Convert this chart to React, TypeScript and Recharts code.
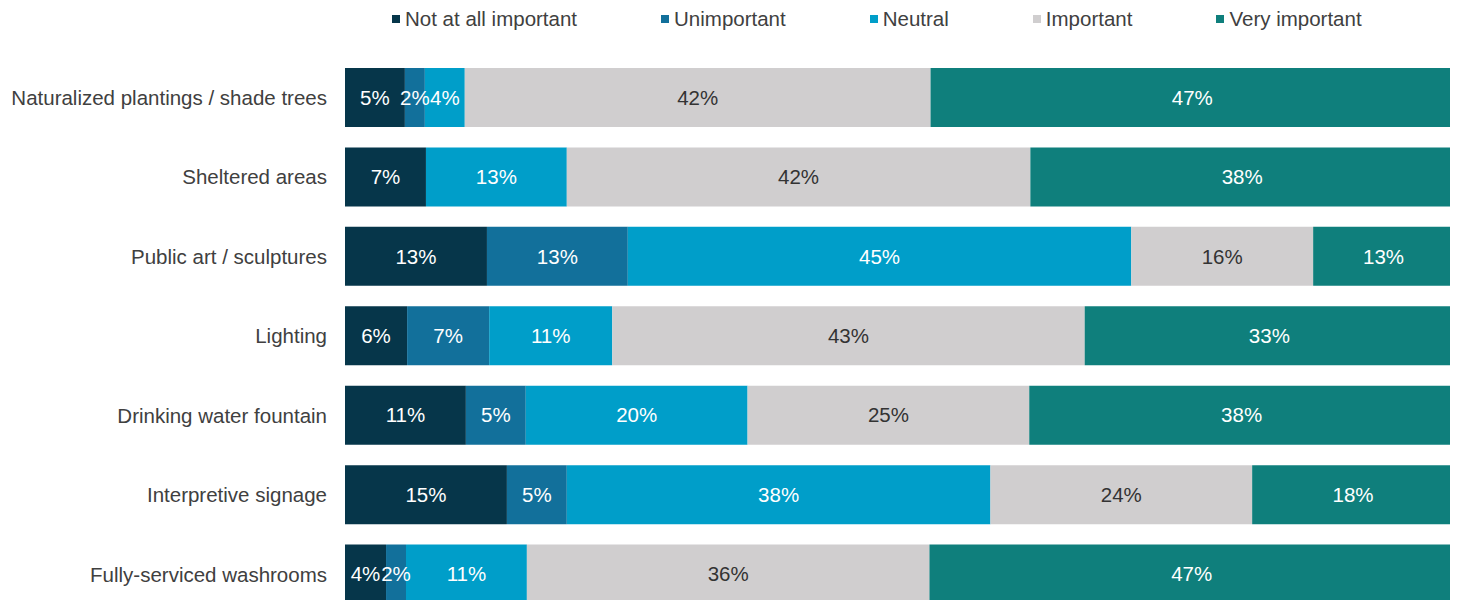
import { BarChart, Bar, XAxis, YAxis, LabelList } from 'recharts'

const categories = [
  'Naturalized plantings / shade trees',
  'Sheltered areas',
  'Public art / sculptures',
  'Lighting',
  'Drinking water fountain',
  'Interpretive signage',
  'Fully-serviced washrooms',
]

const notAtAll = [5.4, 7.3, 12.8, 5.6, 10.9, 14.6, 3.7]
const unimportant = [1.8, 0, 12.7, 7.4, 5.4, 5.4, 1.8]
const neutral = [3.6, 12.7, 45.4, 11.1, 20.0, 38.2, 10.9]
const important = [42.0, 41.8, 16.4, 42.6, 25.4, 23.6, 36.3]
const veryImportant = [47.2, 38.2, 12.7, 33.3, 38.3, 18.2, 47.3]

const series = [
  { key: 'notAtAll', name: 'Not at all important', color: '#06364a', text: '#ffffff', values: notAtAll },
  { key: 'unimportant', name: 'Unimportant', color: '#12709b', text: '#ffffff', values: unimportant },
  { key: 'neutral', name: 'Neutral', color: '#009ec9', text: '#ffffff', values: neutral },
  { key: 'important', name: 'Important', color: '#d0cecf', text: '#333333', values: important },
  { key: 'veryImportant', name: 'Very important', color: '#0f7f7c', text: '#ffffff', values: veryImportant },
]

const data = categories.map((cat, i) => {
  const row: Record<string, string | number> = { category: cat }
  series.forEach((s) => {
    row[s.key] = s.values[i]
  })
  return row
})

const font = '"Liberation Sans", Arial, sans-serif'
const fs = 20.5

function pct(v: any) {
  const n = Number(v)
  if (!n || n < 0.5) return ''
  return `${Math.round(n)}%`
}

export default function App() {
  return (
    <div style={{ position: 'relative', width: 1450, height: 592, overflow: 'hidden', fontFamily: font }}>
      <div
        style={{
          position: 'absolute',
          top: 0,
          left: 384,
          height: 21,
          display: 'flex',
          alignItems: 'center',
          gap: 84,
          fontSize: fs,
          color: '#404040',
          whiteSpace: 'nowrap',
        }}
      >
        {series.map((s) => (
          <div key={s.key} style={{ display: 'flex', alignItems: 'center' }}>
            <span style={{ display: 'inline-block', width: 8, height: 8, background: s.color, marginRight: 5 }} />
            <span>{s.name}</span>
          </div>
        ))}
      </div>
      <BarChart
        layout="vertical"
        width={1450}
        height={620}
        data={data}
        margin={{ top: 50, right: 4, bottom: 14, left: 0 }}
        style={{ fontFamily: font }}
      >
        <XAxis type="number" domain={[0, 100]} hide />
        <YAxis
          type="category"
          dataKey="category"
          width={337}
          axisLine={false}
          tickLine={false}
          tickSize={0}
          tickMargin={18}
          tick={{ fill: '#404040', fontSize: fs }}
        />
        {series.map((s) => (
          <Bar key={s.key} dataKey={s.key} name={s.name} stackId="a" fill={s.color} barSize={59} isAnimationActive={false}>
            <LabelList dataKey={s.key} position="center" formatter={pct} fill={s.text} fontSize={fs} />
          </Bar>
        ))}
      </BarChart>
    </div>
  )
}
